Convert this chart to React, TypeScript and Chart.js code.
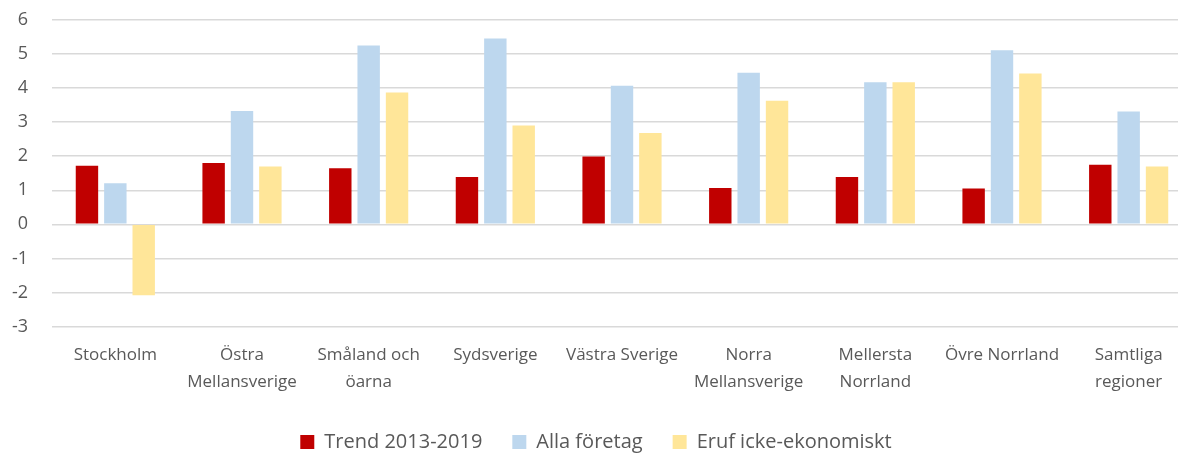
import React, { useEffect, useRef } from "react";
import { Chart, registerables } from "chart.js";

Chart.register(...registerables);

const categories: (string | string[])[] = [
  "Stockholm",
  ["Östra", "Mellansverige"],
  ["Småland och", "öarna"],
  "Sydsverige",
  "Västra Sverige",
  ["Norra", "Mellansverige"],
  ["Mellersta", "Norrland"],
  "Övre Norrland",
  ["Samtliga", "regioner"],
];

const trend = [1.72, 1.8, 1.65, 1.39, 1.99, 1.07, 1.39, 1.05, 1.75];
const allaForetag = [1.21, 3.33, 5.25, 5.46, 4.07, 4.45, 4.17, 5.11, 3.31];
const eruf = [-2.08, 1.7, 3.87, 2.9, 2.68, 3.63, 4.17, 4.43, 1.7];

const seriesNames = ["Trend 2013-2019", "Alla företag", "Eruf icke-ekonomiskt"];
const colors = ["#C00000", "#BDD7EE", "#FFE699"];

const FONT = "'Open Sans', 'Noto Sans', sans-serif";
const TEXT = "#595959";

export default function App() {
  const ref = useRef<HTMLCanvasElement | null>(null);

  useEffect(() => {
    document.body.style.margin = "0";
    if (!ref.current) return;
    const chart = new Chart(ref.current, {
      type: "bar",
      data: {
        labels: categories,
        datasets: [trend, allaForetag, eruf].map((d, i) => ({
          label: seriesNames[i],
          data: d,
          backgroundColor: colors[i],
          borderWidth: 0,
          categoryPercentage: 0.672,
          barPercentage: 0.79,
        })),
      },
      options: {
        animation: false,
        responsive: true,
        maintainAspectRatio: false,
        layout: { padding: { top: 0, left: 0, right: 0, bottom: -7 } },
        plugins: {
          tooltip: { enabled: false },
          legend: {
            position: "bottom",
            labels: {
              boxWidth: 14,
              boxHeight: 14,
              padding: 30,
              color: TEXT,
              font: { family: FONT, size: 20 },
            },
          },
        },
        scales: {
          x: {
            grid: { display: false, drawTicks: false },
            border: { display: false },
            ticks: {
              color: TEXT,
              font: { family: FONT, size: 17, lineHeight: 1.6 },
              maxRotation: 0,
              minRotation: 0,
              autoSkip: false,
              padding: 15,
            },
            afterFit: (s: any) => {
              s.height = 75.5;
            },
          },
          y: {
            min: -3,
            max: 6,
            grid: { color: "#D9D9D9", lineWidth: 1.5, drawTicks: false },
            border: { display: false },
            ticks: {
              stepSize: 1,
              color: TEXT,
              font: { family: FONT, size: 18 },
              padding: 24,
            },
            afterFit: (s: any) => {
              s.width = 52;
              s.paddingTop = 20;
              s.paddingBottom = 0;
            },
          },
        },
      },
    });
    return () => chart.destroy();
  }, []);

  return (
    <div style={{ position: "fixed", left: 0, top: 0, width: 1178, height: 455, overflow: "hidden", background: "#fff" }}>
      <div style={{ position: "relative", width: 1192, height: 455 }}>
        <canvas ref={ref} />
      </div>
    </div>
  );
}
